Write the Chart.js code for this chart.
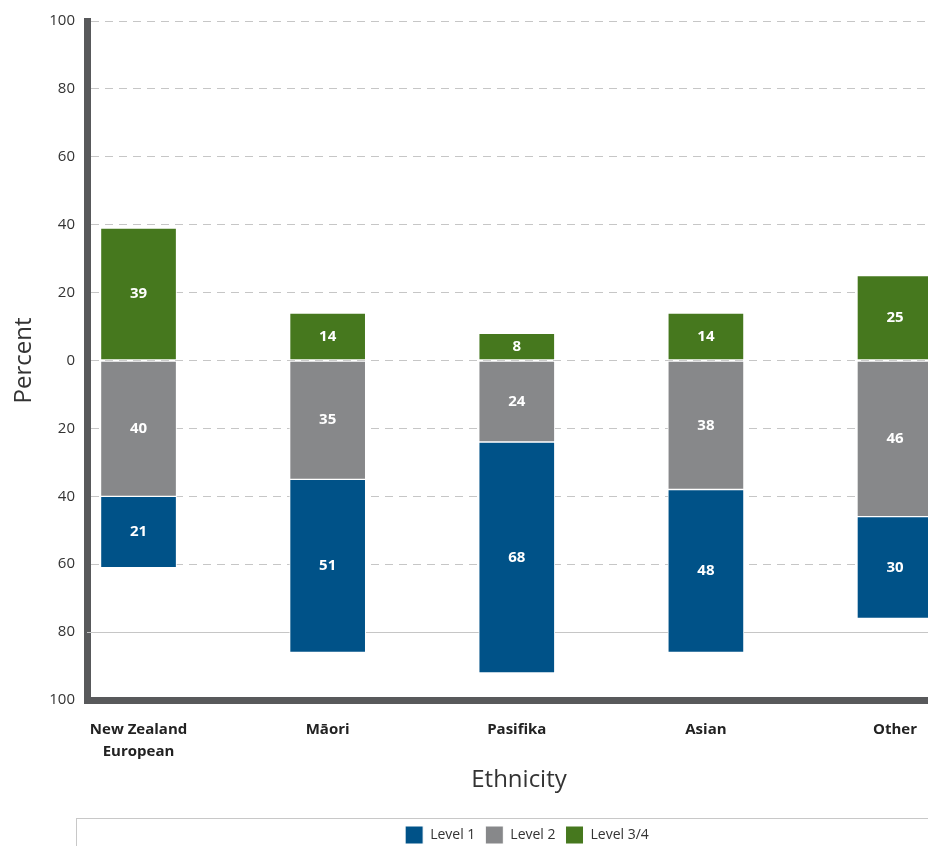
<!DOCTYPE html>
<html>
<head>
<meta charset="utf-8">
<script src="https://cdn.jsdelivr.net/npm/chart.js@4/dist/chart.umd.min.js"></script>
<style>
  html, body { margin: 0; padding: 0; background: #fff; overflow: hidden; }
  #wrap { width: 1054px; height: 854px; }
</style>
</head>
<body>
<div id="wrap"><canvas id="levelChart" width="1054" height="854"></canvas></div>
<script>
// ============================================
// DATA
// ============================================

const ETHNICITIES = [
  ["New Zealand", "European"],
  "Māori",
  "Pasifika",
  "Asian",
  "Other"
];

const LEVEL_1 = [21, 51, 68, 48, 30];
const LEVEL_2 = [40, 35, 24, 38, 46];
const LEVEL_34 = [39, 14, 8, 14, 25];

const SERIES_NAMES = ["Level 1", "Level 2", "Level 3/4"];

const Y_TICKS = [-100, -80, -60, -40, -20, 0, 20, 40, 60, 80, 100];


// ============================================
// STYLE
// ============================================

const BLUE = "#005288";
const GREY = "#87888a";
const GREEN = "#46781e";
const AXIS_COLOR = "#58595b";
const GRID_COLOR = "#c6c6c6";
const FONT = "'Open Sans', 'Noto Sans', sans-serif";

Chart.defaults.font.family = FONT;
Chart.defaults.color = "#333";


// ============================================
// PLUGINS
// ============================================

// white numbers in the middle of each segment
const segmentLabels = {
  id: "segmentLabels",
  afterDatasetsDraw(chart) {
    const ctx = chart.ctx;
    ctx.save();
    ctx.fillStyle = "#fff";
    ctx.font = "bold 15px " + FONT;
    ctx.textAlign = "center";
    ctx.textBaseline = "middle";
    chart.data.datasets.forEach((ds, di) => {
      const meta = chart.getDatasetMeta(di);
      meta.data.forEach((bar, i) => {
        const p = bar.getProps(["x", "y", "base"], true);
        ctx.fillText(Math.abs(ds.data[i].y), p.x, (p.y + p.base) / 2);
      });
    });
    ctx.restore();
  }
};

// solid line at the 80 mark below zero, frame round the legend
const extras = {
  id: "extras",
  beforeDatasetsDraw(chart) {
    const ctx = chart.ctx;
    const area = chart.chartArea;
    const y = Math.round(chart.scales.y.getPixelForValue(-80)) + 0.5;
    ctx.save();
    ctx.strokeStyle = GRID_COLOR;
    ctx.lineWidth = 1;
    ctx.beginPath();
    ctx.moveTo(area.left, y);
    ctx.lineTo(area.right, y);
    ctx.stroke();
    ctx.restore();
  },
  afterDraw(chart) {
    const ctx = chart.ctx;
    const top = chart.legend.top + 2.5;
    ctx.save();
    ctx.strokeStyle = "#c8c8c8";
    ctx.lineWidth = 1;
    ctx.strokeRect(76.5, top, 902, 80);
    ctx.restore();
  }
};


// ============================================
// CHART
// ============================================

const toPoints = (values, sign) =>
  values.map((v, i) => ({ x: i, y: sign * v }));

new Chart(document.getElementById("levelChart"), {

  type: "bar",

  data: {
    datasets: [
      { label: SERIES_NAMES[1], data: toPoints(LEVEL_2, -1), backgroundColor: GREY },
      { label: SERIES_NAMES[0], data: toPoints(LEVEL_1, -1), backgroundColor: BLUE },
      { label: SERIES_NAMES[2], data: toPoints(LEVEL_34, 1), backgroundColor: GREEN }
    ]
  },

  options: {
    responsive: false,
    animation: false,
    layout: { padding: { top: 21, left: 0, right: 0, bottom: 0 } },

    datasets: {
      bar: {
        barThickness: 76,
        borderColor: "#fff",
        borderWidth: 1,
        borderSkipped: false
      }
    },

    plugins: {
      tooltip: { enabled: false },
      legend: {
        position: "bottom",
        labels: {
          boxWidth: 18,
          boxHeight: 18,
          padding: 10,
          color: "#333",
          font: { size: 14 },
          sort: (a, b) => SERIES_NAMES.indexOf(a.text) - SERIES_NAMES.indexOf(b.text)
        }
      }
    },

    scales: {

      x: {
        type: "linear",
        stacked: true,
        offset: false,
        min: -0.2725,
        max: 4.296,
        afterBuildTicks: axis => {
          axis.ticks = ETHNICITIES.map((_, i) => ({ value: i }));
        },
        afterFit: axis => { axis.height = 116; },
        grid: { display: false, drawTicks: false },
        border: { display: true, color: AXIS_COLOR, width: 7 },
        ticks: {
          padding: 19,
          autoSkip: false,
          maxRotation: 0,
          color: "#222",
          font: { size: 15, weight: "bold", lineHeight: 1.45 },
          callback: value => ETHNICITIES[value]
        },
        title: {
          display: true,
          text: "Ethnicity",
          color: "#333",
          font: { size: 24 },
          padding: { top: 21, bottom: 21 }
        }
      },

      y: {
        stacked: true,
        min: -100,
        max: 100,
        afterBuildTicks: axis => {
          axis.ticks = Y_TICKS.map(v => ({ value: v }));
        },
        afterFit: axis => { axis.width = 87; },
        grid: {
          drawTicks: false,
          lineWidth: 1,
          color: c => (c.tick && c.tick.value === -80) || (c.tick && c.tick.value === -100)
            ? "rgba(0,0,0,0)"
            : GRID_COLOR
        },
        border: { display: true, color: AXIS_COLOR, width: 7, dash: [8, 6] },
        ticks: {
          padding: 12,
          color: "#333",
          font: { size: 15 },
          callback: value => Math.abs(value)
        },
        title: {
          display: true,
          text: "Percent",
          color: "#333",
          font: { size: 24 },
          padding: { top: 10, bottom: 10 }
        }
      },

      pad: {
        type: "linear",
        position: "right",
        display: true,
        afterFit: axis => { axis.width = 103; },
        grid: { display: false },
        border: { display: false },
        ticks: { display: false }
      }

    }
  },

  plugins: [segmentLabels, extras]

});
</script>
</body>
</html>
